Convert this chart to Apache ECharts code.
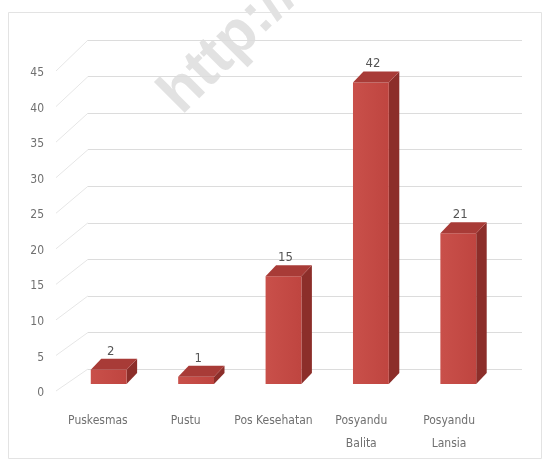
<!DOCTYPE html>
<html>
<head>
<meta charset="utf-8">
<script src="https://cdn.jsdelivr.net/npm/echarts@6/dist/echarts.min.js"></script>
<style>
  html, body { margin: 0; padding: 0; background: #fff; }
  #main { width: 549px; height: 466px; }
</style>
</head>
<body>
<div id="main"></div>
<script>
// data
var categories = ['Puskesmas', 'Pustu', 'Pos Kesehatan', 'Posyandu\nBalita', 'Posyandu\nLansia']
var values = [2, 1, 15, 42, 21]
var yTicks = [0, 5, 10, 15, 20, 25, 30, 35, 40, 45]

var FONT = "'Liberation Sans Narrow', 'DejaVu Sans Condensed', sans-serif"
var TEXT_COLOR = '#707070'
var yMin = yTicks[0]
var yMax = yTicks[yTicks.length - 1]
var yStep = yTicks[1] - yTicks[0]

var chart = echarts.init(document.getElementById('main'))

// 3D bar: front face, right side, top face
function renderBar(params, api) {
  var i = api.value(0)
  var v = api.value(1)
  var base = api.coord([i, 0])
  var top = api.coord([i, v])
  var band = api.size([1, 0])[0]
  var w = band * 0.41
  var dx = band * 0.12
  var dy = 11
  var x0 = base[0] - w / 2
  var x1 = base[0] + w / 2
  var yb = base[1]
  var yt = top[1]
  return {
    type: 'group',
    children: [
      {
        type: 'polygon',
        shape: { points: [[x1, yb], [x1, yt], [x1 + dx, yt - dy], [x1 + dx, yb - dy]] },
        style: { fill: '#8c2e2a' }
      },
      {
        type: 'rect',
        shape: { x: x0, y: yt, width: w, height: yb - yt },
        style: {
          fill: new echarts.graphic.LinearGradient(0, 0, 1, 0, [
            { offset: 0, color: '#c9504a' },
            { offset: 1, color: '#bf4540' }
          ])
        }
      },
      {
        type: 'polygon',
        shape: { points: [[x0, yt], [x1, yt], [x1 + dx, yt - dy], [x0 + dx, yt - dy]] },
        style: { fill: '#a83b37' }
      },
      {
        type: 'text',
        style: {
          text: String(v),
          x: base[0] + 2,
          y: yt - dy - 1,
          align: 'center',
          verticalAlign: 'bottom',
          fontFamily: FONT,
          fontSize: 13,
          fill: '#555'
        }
      }
    ]
  }
}

var hiddenX = function (idx) {
  return {
    type: 'category', gridIndex: idx, data: categories,
    axisLine: { show: false }, axisTick: { show: false }, axisLabel: { show: false }
  }
}
var valueY = function (idx) {
  return {
    type: 'value', gridIndex: idx, min: yMin, max: yMax, interval: yStep,
    axisLine: { show: false }, axisTick: { show: false },
    axisLabel: { show: false }, splitLine: { show: false }
  }
}

var wallY = valueY(0)
wallY.splitLine = { show: true, lineStyle: { color: '#dcdcdc', width: 1 } }

var frontX = hiddenX(2)
frontX.axisLabel = {
  show: true, interval: 0, margin: 16,
  fontFamily: FONT, fontSize: 12, color: TEXT_COLOR, lineHeight: 23
}
var frontY = valueY(2)
frontY.axisLabel = { show: true, margin: 10, fontFamily: FONT, fontSize: 12, color: TEXT_COLOR }

chart.setOption({
  animation: false,
  grid: [
    { left: 88, right: 27, top: 40, bottom: 97 },  // back wall
    { left: 65, right: 47, top: 61, bottom: 82 },  // bars
    { left: 54, right: 56, top: 73, bottom: 73 }   // front labels
  ],
  xAxis: [hiddenX(0), hiddenX(1), frontX],
  yAxis: [wallY, valueY(1), frontY],
  series: [{
    type: 'custom',
    xAxisIndex: 1,
    yAxisIndex: 1,
    renderItem: renderBar,
    data: values.map(function (v, i) { return [i, v] })
  }]
})

// floor diagonals from wall gridlines to the front labels + border + watermark
var extras = [
  {
    type: 'rect', z: -10, silent: true,
    shape: { x: 8.5, y: 12.5, width: 533, height: 446 },
    style: { fill: 'none', stroke: '#e3e3e3', lineWidth: 1 }
  },
  {
    type: 'text', z: -5, silent: true,
    x: 170, y: 104, rotation: Math.PI / 4,
    style: {
      text: 'http://', fontSize: 60, fontWeight: 'bold',
      fontFamily: "'Liberation Sans', Arial, sans-serif",
      fill: '#e2e2e2', align: 'left', verticalAlign: 'middle'
    }
  }
]
yTicks.forEach(function (t) {
  var yWall = chart.convertToPixel({ yAxisIndex: 0 }, t)
  var yFront = chart.convertToPixel({ yAxisIndex: 2 }, t)
  extras.push({
    type: 'line', z: -8, silent: true,
    shape: { x1: 88, y1: yWall, x2: 56, y2: yFront - 2 },
    style: { stroke: '#e6e6e6', lineWidth: 1 }
  })
})
chart.setOption({ graphic: extras })
</script>
</body>
</html>
